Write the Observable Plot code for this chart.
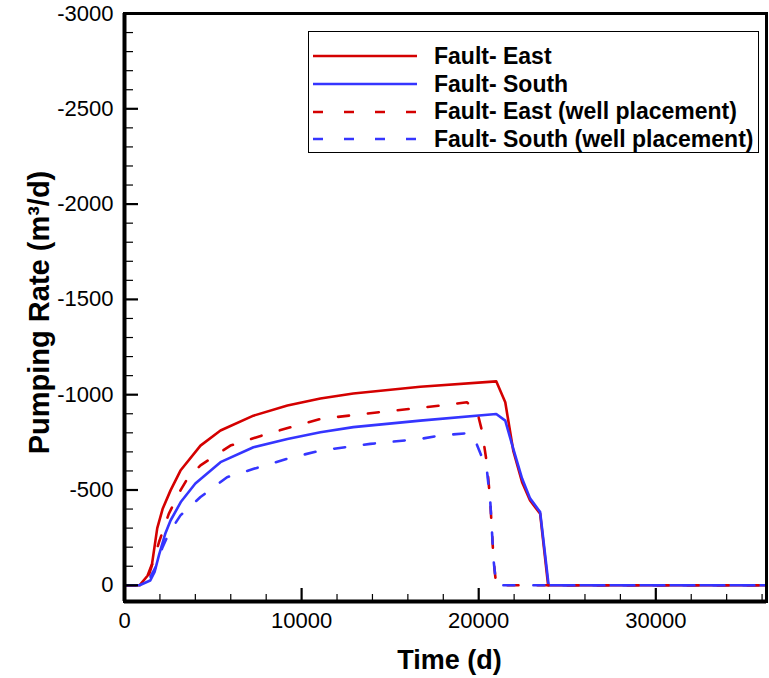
<!DOCTYPE html>
<html>
<head>
<meta charset="utf-8">
<script src="https://cdn.jsdelivr.net/npm/d3@7"></script>
<script src="https://cdn.jsdelivr.net/npm/@observablehq/plot@0.6"></script>
<style>
  html, body { margin: 0; padding: 0; background: #fff; }
  #wrap { position: relative; width: 769px; height: 678px; font-family: "Liberation Sans", Arial, sans-serif; }
  #legend { position: absolute; left: 308px; top: 31px; width: 451px; height: 122px; box-sizing: border-box;
            border: 1px solid #000; background: #fff; padding-top: 10.5px; }
  .row { display: flex; align-items: center; height: 27.7px; }
  .row svg { margin-left: 4px; flex: none; }
  .row span { margin-left: 17px; font-weight: bold; font-size: 23px; color: #000; white-space: nowrap; }
</style>
</head>
<body>
<div id="wrap"><div id="legend"></div></div>
<script>
// ---- data ----
const eastT   = [0, 850, 1300, 1550, 1850, 2150, 2600, 3160, 4290, 5420, 7280, 9200, 11060, 12920, 16700, 20990, 21500, 21950, 22450, 22900, 23470, 23920, 36250];
const eastV   = [0, 0, -50, -110, -300, -400, -498, -602, -733, -812, -890, -943, -980, -1006, -1042, -1070, -960, -707, -541, -445, -375, 0, 0];
const southT  = [0, 850, 1450, 1700, 1950, 2300, 2600, 3200, 4000, 5420, 7280, 9200, 11060, 12920, 16700, 20990, 21500, 21950, 22450, 22900, 23470, 23950, 36250];
const southV  = [0, 0, -25, -70, -160, -270, -340, -440, -534, -646, -724, -768, -803, -830, -864, -899, -864, -717, -560, -456, -384, 0, 0];
const eastWT  = [0, 900, 1100, 1400, 1950, 2500, 3160, 3550, 4290, 5980, 8070, 11060, 14840, 16700, 17830, 19335, 19900, 20180, 20465, 20650, 20840, 20990, 36250];
const eastWV  = [0, 0, -10, -60, -227, -375, -498, -559, -629, -733, -795, -873, -913, -931, -943, -960, -917, -812, -637, -445, -131, 0, 0];
const southWT = [0, 900, 1300, 1560, 1840, 2125, 2500, 3160, 4290, 5790, 7300, 9180, 11060, 13880, 16700, 17830, 19335, 19710, 20180, 20465, 20650, 20840, 20990, 36250];
const southWV = [0, 0, -15, -61, -110, -194, -272, -367, -463, -567, -611, -664, -707, -742, -768, -786, -798, -781, -673, -602, -445, -131, 0, 0];

const seriesNames = ["Fault- East", "Fault- South", "Fault- East (well placement)", "Fault- South (well placement)"];
const seriesColors = ["#d40000", "#3535ff", "#d40000", "#3535ff"];
const seriesDash = [null, null, "11,19", "11,19"];

const xMajor = [0, 10000, 20000, 30000];
const xMinor = d3.range(0, 36001, 2000).filter(d => d % 10000 !== 0);
const yMajor = [0, -500, -1000, -1500, -2000, -2500, -3000];
const yMinor = d3.range(0, -3001, -100).filter(d => d % 500 !== 0);
const xDomain = [0, 36250];
const yDomain = [85, -3000];
const xTitle = "Time (d)";
const yTitle = "Pumping Rate (m³/d)";

// ---- build ----
const W = 769, H = 678, mL = 124, mR = 3, mT = 13, mB = 77;
const pw = W - mL - mR, ph = H - mT - mB;
const mk = (T, V) => T.map((t, i) => ({t, v: V[i]}));
const datasets = [mk(eastT, eastV), mk(southT, southV), mk(eastWT, eastWV), mk(southWT, southWV)];

const lines = datasets.map((d, i) => Plot.line(d, {x: "t", y: "v", stroke: seriesColors[i], strokeWidth: 2.6,
  strokeDasharray: seriesDash[i] || undefined, strokeLinejoin: "round"}));

const chart = Plot.plot({
  width: W, height: H,
  marginLeft: mL, marginRight: mR, marginTop: mT, marginBottom: mB,
  style: {fontFamily: "'Liberation Sans', Arial, sans-serif", background: "white", color: "black"},
  x: {domain: xDomain},
  y: {domain: yDomain},
  marks: [
    ...lines,
    Plot.ruleY(yMinor, {stroke: "black", strokeWidth: 1.2, insetRight: pw - 9}),
    Plot.ruleY(yMajor, {stroke: "black", strokeWidth: 2.2, insetRight: pw - 14}),
    Plot.ruleX(xMinor, {stroke: "black", strokeWidth: 1.2, insetTop: ph - 7}),
    Plot.ruleX(xMajor, {stroke: "black", strokeWidth: 2.2, insetTop: ph - 13}),
    Plot.axisY({ticks: yMajor, tickSize: 0, tickPadding: 11, fontSize: 22, tickFormat: d => String(d), label: null}),
    Plot.axisX({ticks: xMajor, tickSize: 0, tickPadding: 11, fontSize: 22, tickFormat: d => String(d), label: null}),
    Plot.frame({stroke: "black", strokeWidth: 3}),
    Plot.ruleX([xDomain[0]], {stroke: "black", strokeWidth: 4}),
    Plot.ruleY([yDomain[0]], {stroke: "black", strokeWidth: 4}),
    Plot.text([xTitle], {frameAnchor: "bottom", textAnchor: "middle", dx: 4, dy: 67, lineAnchor: "bottom", fontSize: 27, fontWeight: "bold", text: d => d}),
    Plot.text([yTitle], {frameAnchor: "left", textAnchor: "middle", dx: -76, dy: 5, rotate: -90, lineAnchor: "bottom", fontSize: 29, fontWeight: "bold", text: d => d})
  ]
});
const wrap = document.getElementById("wrap");
wrap.insertBefore(chart, wrap.firstChild);

// legend
const legend = document.getElementById("legend");
seriesNames.forEach((name, i) => {
  const row = document.createElement("div");
  row.className = "row";
  const s = d3.create("svg").attr("width", 104).attr("height", 6);
  s.append("line").attr("x1", 0).attr("x2", 104).attr("y1", 3).attr("y2", 3)
    .attr("stroke", seriesColors[i]).attr("stroke-width", 2.6)
    .attr("stroke-dasharray", seriesDash[i] ? "10,21" : null);
  row.appendChild(s.node());
  const sp = document.createElement("span");
  sp.textContent = name;
  row.appendChild(sp);
  legend.appendChild(row);
});
</script>
</body>
</html>
